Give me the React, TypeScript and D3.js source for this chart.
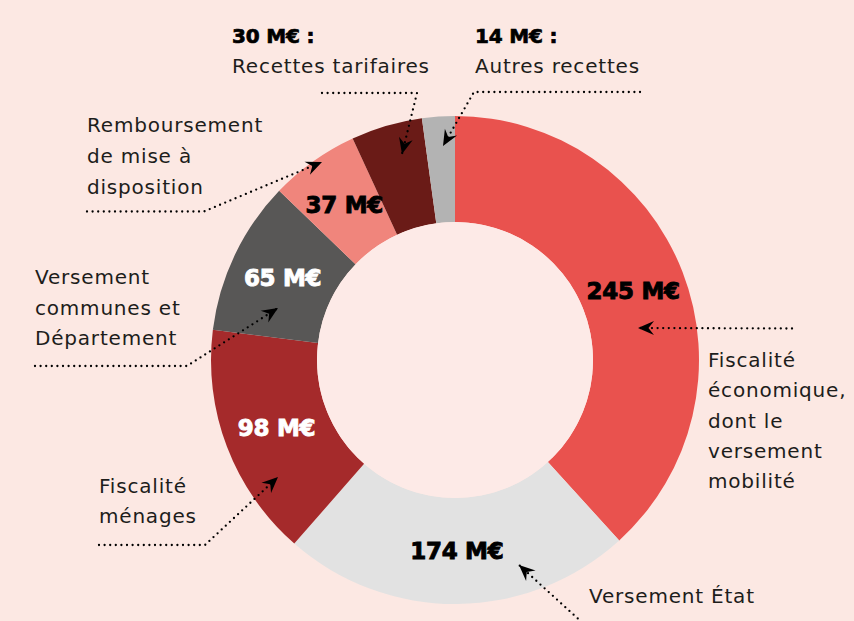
import React from "react";
import * as d3 from "d3";

// Categories, clockwise from 12 o'clock
const categories = [
  "Fiscalité économique, dont le versement mobilité",
  "Versement État",
  "Fiscalité ménages",
  "Versement communes et Département",
  "Remboursement de mise à disposition",
  "Recettes tarifaires",
  "Autres recettes",
];
// Amounts shown on the labels (M€)
const amounts = [245, 174, 98, 65, 37, 30, 14];
// Slice sizes as actually drawn in the picture (degrees of the ring)
const drawnShares = [137.7, 83.5, 55.9, 36.8, 21.3, 17.0, 7.8];

const colors = ["#e9524e", "#e2e2e2", "#a52a2b", "#585756", "#f0857c", "#6a1b17", "#b3b3b3"];
const labelColors = ["#000", "#000", "#fff", "#fff", "#000", null, null];

const W = 854;
const H = 621;
const cx = 455;
const cy = 360;
const rOuter = 244;
const rInner = 138;

type Note = {
  idx: number;
  head?: string;
  lines: string[];
  x: number;
  y0: number;
  lh: number;
  path: [number, number][];
};

const notes: Note[] = [
  { idx: 5, head: "30 M€ :", lines: ["Recettes tarifaires"], x: 232, y0: 43, lh: 30, path: [[322, 93], [417, 93], [402, 154]] },
  { idx: 6, head: "14 M€ :", lines: ["Autres recettes"], x: 475, y0: 43, lh: 30, path: [[640, 92], [474, 92], [443, 146]] },
  { idx: 4, lines: ["Remboursement", "de mise à", "disposition"], x: 87, y0: 132, lh: 31, path: [[87, 211.5], [204, 211.5], [322, 162]] },
  { idx: 3, lines: ["Versement", "communes et", "Département"], x: 35, y0: 284, lh: 30.5, path: [[35, 366], [187, 366], [278, 308]] },
  { idx: 2, lines: ["Fiscalité", "ménages"], x: 99, y0: 493, lh: 30, path: [[99, 545], [205, 545], [278, 477]] },
  { idx: 0, lines: ["Fiscalité", "économique,", "dont le", "versement", "mobilité"], x: 708, y0: 367, lh: 30.3, path: [[792, 328.5], [638, 328]] },
  { idx: 1, lines: ["Versement État"], x: 589, y0: 603, lh: 30, path: [[586, 626], [519, 565]] },
];

export default function App() {
  const pie = d3
    .pie<number>()
    .sort(null)
    .value((d) => d);
  const arcs = pie(drawnShares);
  const arc = d3.arc<d3.PieArcDatum<number>>().innerRadius(rInner).outerRadius(rOuter);
  const line = d3.line();

  const textFont = "'DejaVu Sans', sans-serif";
  const textColor = "#1d1d1b";

  return (
    <div style={{ position: "absolute", left: 0, top: 0 }}>
      <style>{`body{margin:0}`}</style>
      <svg width={W} height={H} viewBox={`0 0 ${W} ${H}`} style={{ display: "block" }}>
        <defs>
          <marker
            id="arrow"
            viewBox="-17 -8 18 16"
            refX={0}
            refY={0}
            markerWidth={18}
            markerHeight={16}
            markerUnits="userSpaceOnUse"
            orient="auto"
          >
            <path d="M0,0 L-16,-7 L-10.5,0 L-16,7 Z" fill="#000" />
          </marker>
        </defs>
        <rect width={W} height={H} fill="#fce8e3" />
        <g transform={`translate(${cx},${cy})`}>
          {arcs.map((a, i) => (
            <path key={categories[i]} d={arc(a) || ""} fill={colors[i]} />
          ))}
          <circle r={rInner} fill="#fdeae7" />
          {arcs.map((a, i) => {
            if (!labelColors[i]) return null;
            const [lx, ly] = arc.centroid(a);
            return (
              <text
                key={"l" + i}
                x={lx}
                y={ly}
                dy="0.36em"
                textAnchor="middle"
                fill={labelColors[i] as string}
                stroke={labelColors[i] as string}
                strokeWidth={0.9}
                fontFamily={textFont}
                fontWeight={700}
                fontSize={23}
                letterSpacing={-0.3}
              >
                {amounts[i]} M€
              </text>
            );
          })}
        </g>
        {notes.map((n) => (
          <g key={"n" + n.idx}>
            <path
              d={line(n.path) || ""}
              fill="none"
              stroke="#000"
              strokeWidth={2.3}
              strokeDasharray="0 5.6"
              strokeLinecap="round"
              markerEnd="url(#arrow)"
            />
            {n.head && (
              <text
                x={n.x}
                y={n.y0}
                fill="#000"
                stroke="#000"
                strokeWidth={0.7}
                fontFamily={textFont}
                fontWeight={700}
                fontSize={20}
                letterSpacing={-0.2}
              >
                {n.head}
              </text>
            )}
            {n.lines.map((t, k) => (
              <text
                key={k}
                x={n.x}
                y={n.head ? n.y0 + 30 + k * n.lh : n.y0 + k * n.lh}
                fill={textColor}
                fontFamily={textFont}
                fontSize={20}
                letterSpacing={0.8}
              >
                {t}
              </text>
            ))}
          </g>
        ))}
      </svg>
    </div>
  );
}
